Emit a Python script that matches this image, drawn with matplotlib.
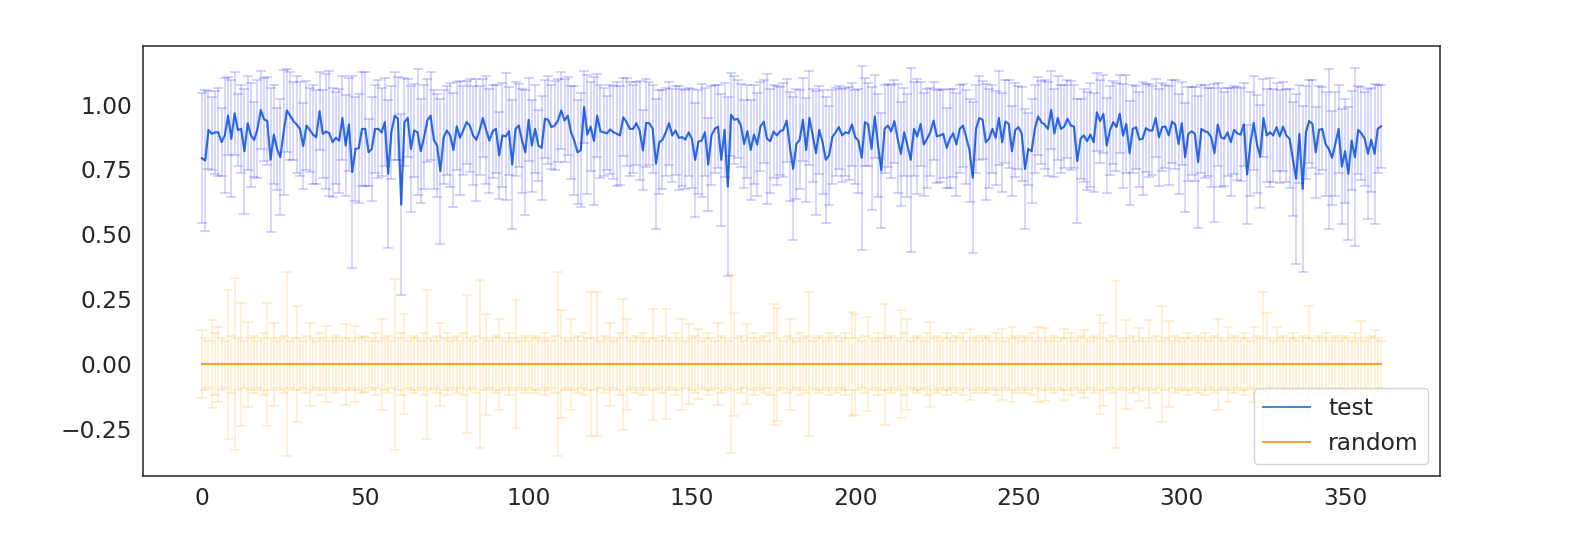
import numpy as np
import matplotlib
matplotlib.use("Agg")
import matplotlib.pyplot as plt
from matplotlib.lines import Line2D

# ---------------- data ----------------
test_mean = [
    .793, .784, .902, .887, .893, .893, .855, .881, .957, .868,
    .966, .902, .906, .820, .928, .881, .864, .906, .979, .943,
    .936, .787, .884, .829, .797, .893, .977, .957, .936, .923,
    .906, .840, .919, .902, .884, .874, .974, .887, .896, .889,
    .855, .872, .861, .948, .842, .923, .740, .829, .832, .906,
    .906, .816, .829, .906, .906, .893, .932, .733, .893, .957,
    .945, .615, .932, .948, .829, .900, .893, .820, .874, .938,
    .957, .864, .842, .743, .874, .900, .881, .825, .916, .872,
    .900, .932, .919, .881, .864, .900, .948, .902, .861, .897,
    .906, .804, .881, .877, .897, .769, .906, .919, .861, .816,
    .941, .842, .906, .842, .833, .945, .941, .913, .919, .938,
    .977, .938, .957, .893, .861, .816, .825, .990, .884, .915,
    .860, .957, .897, .893, .889, .904, .893, .887, .881, .951,
    .932, .906, .906, .928, .900, .823, .929, .928, .906, .772,
    .855, .864, .893, .928, .881, .900, .872, .874, .865, .893,
    .868, .787, .857, .861, .893, .769, .881, .906, .915, .787,
    .902, .684, .961, .941, .945, .919, .848, .897, .825, .884,
    .846, .915, .934, .868, .859, .896, .881, .897, .902, .938,
    .838, .752, .848, .864, .941, .825, .948, .881, .813, .902,
    .855, .787, .804, .874, .893, .913, .881, .893, .889, .923,
    .874, .861, .795, .932, .923, .829, .954, .842, .746, .906,
    .919, .897, .936, .868, .810, .893, .842, .787, .906, .877,
    .925, .846, .868, .893, .938, .877, .881, .887, .833, .868,
    .889, .846, .906, .919, .874, .823, .718, .906, .948, .941,
    .855, .868, .906, .872, .948, .855, .934, .925, .820, .902,
    .913, .887, .752, .829, .820, .906, .954, .932, .923, .906,
    .979, .889, .948, .906, .915, .945, .919, .915, .782, .868,
    .881, .859, .884, .855, .970, .936, .964, .842, .900, .932,
    .913, .964, .880, .925, .813, .906, .913, .865, .868, .909,
    .900, .900, .948, .874, .913, .915, .881, .934, .923, .848,
    .928, .797, .887, .897, .887, .778, .906, .897, .893, .874,
    .813, .923, .874, .868, .893, .855, .902, .889, .884, .923,
    .731, .848, .929, .848, .800, .948, .881, .893, .881, .913,
    .877, .915, .881, .868, .791, .714, .887, .675, .893, .936,
    .925, .816, .902, .906, .848, .829, .795, .848, .906, .761,
    .820, .733, .861, .797, .902, .889, .868, .810, .864, .810,
    .906, .916,
]

test_err = [
    .25, .27, .15, .14, .16, .17, .13, .22, .15, .225,
    .16, .14, .17, .24, .18, .20, .144, .19, .15, .16,
    .17, .276, .19, .157, .224, .24, .16, .17, .15, .187,
    .18, .165, .17, .16, .19, .18, .15, .17, .22, .24,
    .21, .177, .20, .16, .196, .18, .37, .20, .21, .22,
    .22, .13, .20, .17, .19, .17, .17, .284, .18, .17,
    .16, .35, .17, .15, .243, .18, .243, .20, .20, .16,
    .17, .19, .20, .28, .18, .17, .20, .22, .17, .22,
    .17, .16, .18, .19, .236, .17, .15, .207, .20, .18,
    .17, .167, .20, .244, .17, .247, .18, .16, .20, .241,
    .16, .177, .17, .135, .20, .15, .17, .163, .17, .16,
    .15, .16, .15, .18, .21, .20, .22, .14, .23, .17,
    .246, .16, .18, .17, .143, .17, .18, .20, .19, .15,
    .17, .18, .17, .16, .19, .154, .17, .16, .17, .25,
    .20, .19, .17, .16, .18, .17, .20, .186, .19, .17,
    .19, .22, .20, .218, .17, .18, .19, .17, .16, .253,
    .18, .346, .16, .17, .15, .16, .169, .18, .194, .19,
    .20, .17, .16, .25, .20, .18, .19, .17, .18, .16,
    .21, .275, .21, .19, .16, .20, .18, .18, .24, .17,
    .20, .242, .19, .18, .17, .16, .18, .17, .18, .16,
    .18, .20, .355, .17, .16, .237, .16, .20, .222, .17,
    .16, .18, .16, .21, .20, .17, .20, .355, .18, .22,
    .16, .20, .19, .17, .15, .18, .18, .17, .155, .19,
    .17, .20, .17, .16, .18, .20, .29, .17, .16, .15,
    .224, .19, .17, .18, .18, .19, .16, .17, .174, .18,
    .16, .18, .23, .137, .20, .17, .15, .16, .17, .18,
    .15, .17, .16, .17, .16, .15, .17, .16, .239, .154,
    .18, .19, .20, .19, .15, .16, .15, .182, .17, .16,
    .17, .15, .20, .19, .20, .17, .16, .183, .218, .17,
    .18, .17, .15, .186, .17, .16, .19, .16, .17, .194,
    .16, .21, .18, .17, .18, .254, .17, .18, .17, .19,
    .266, .16, .19, .18, .17, .209, .17, .18, .18, .16,
    .19, .20, .18, .19, .20, .15, .18, .21, .18, .17,
    .18, .17, .18, .19, .22, .327, .19, .32, .18, .16,
    .17, .175, .17, .16, .20, .307, .18, .20, .17, .22,
    .20, .256, .19, .343, .17, .18, .18, .25, .20, .27,
    .17, .16,
]

random_err = [
    .131, .10, .09, .169, .12, .144, .10, .09, .287, .11,
    .332, .10, .237, .09, .163, .10, .11, .09, .10, .12,
    .236, .10, .159, .09, .10, .11, .355, .09, .10, .223,
    .10, .09, .11, .16, .10, .09, .12, .10, .146, .09,
    .10, .11, .09, .10, .156, .10, .09, .146, .10, .11,
    .105, .09, .10, .12, .09, .176, .10, .11, .09, .33,
    .10, .12, .192, .09, .10, .11, .10, .09, .12, .287,
    .10, .09, .11, .16, .10, .12, .09, .10, .11, .09,
    .12, .265, .10, .09, .11, .323, .10, .195, .09, .10,
    .11, .176, .10, .09, .12, .10, .246, .09, .10, .11,
    .09, .10, .11, .10, .09, .12, .10, .09, .11, .355,
    .208, .10, .09, .176, .10, .11, .09, .12, .10, .278,
    .10, .278, .09, .11, .10, .16, .09, .10, .12, .253,
    .176, .10, .09, .11, .10, .12, .09, .10, .214, .10,
    .09, .11, .212, .10, .09, .12, .10, .176, .09, .154,
    .10, .11, .135, .09, .10, .12, .10, .09, .158, .11,
    .10, .09, .342, .198, .10, .11, .09, .154, .10, .12,
    .09, .10, .11, .09, .12, .233, .217, .10, .09, .11,
    .176, .10, .09, .12, .10, .11, .278, .09, .10, .11,
    .10, .09, .12, .10, .11, .09, .10, .12, .10, .20,
    .195, .10, .09, .11, .18, .10, .09, .12, .10, .233,
    .10, .11, .09, .10, .208, .12, .176, .09, .10, .11,
    .10, .09, .12, .163, .10, .11, .09, .10, .12, .10,
    .09, .11, .10, .12, .09, .137, .10, .11, .09, .10,
    .11, .10, .09, .12, .10, .137, .09, .10, .144, .11,
    .10, .09, .11, .10, .12, .09, .144, .10, .14, .09,
    .10, .11, .09, .10, .137, .10, .12, .09, .10, .11,
    .13, .10, .09, .11, .10, .191, .16, .10, .09, .11,
    .321, .10, .09, .172, .10, .11, .09, .14, .10, .09,
    .17, .10, .11, .09, .223, .10, .165, .09, .11, .10,
    .09, .10, .12, .10, .09, .11, .10, .12, .09, .10,
    .11, .176, .10, .09, .144, .10, .11, .09, .10, .12,
    .10, .09, .144, .11, .10, .278, .197, .10, .09, .144,
    .10, .11, .09, .10, .12, .10, .09, .11, .10, .224,
    .10, .09, .11, .10, .12, .09, .10, .11, .09, .10,
    .11, .10, .09, .12, .10, .165, .09, .10, .11, .13,
    .10, .09,
]

random_mean = [0.0] * len(random_err)
series_labels = ["test", "random"]

# ---------------- plot ----------------
plt.rcParams["font.family"] = ["DejaVu Sans"]
fig = plt.figure(figsize=(15.69, 5.37), dpi=100)
ax = fig.add_axes([143 / 1569, 1 - 476 / 537, (1440 - 143) / 1569, (476 - 46) / 537])

x_test = np.arange(len(test_mean))
x_rand = np.arange(len(random_mean))

blue_base = "#3b8ed8"
orange_base = "#f0a43a"

ax.plot(x_test, test_mean, color=blue_base, lw=1.5, zorder=3)
ax.errorbar(x_test, test_mean, yerr=test_err, color="blue", alpha=0.2,
            capsize=3.6, capthick=1.2, elinewidth=1.1, lw=1.5, zorder=3)
ax.plot(x_rand, random_mean, color=orange_base, lw=1.5, zorder=2)
ax.errorbar(x_rand, random_mean, yerr=random_err, color="orange", alpha=0.2,
            capsize=3.6, capthick=1.2, elinewidth=1.1, lw=1.5, zorder=2)

ax.set_xticks([0, 50, 100, 150, 200, 250, 300, 350])
ax.set_yticks([-0.25, 0.0, 0.25, 0.5, 0.75, 1.0])
ax.set_yticklabels(["\u22120.25", "0.00", "0.25", "0.50", "0.75", "1.00"])
ax.tick_params(axis="both", labelsize=16.8, colors="#262626", length=0, pad=8)
for s in ax.spines.values():
    s.set_color("#262626")
    s.set_linewidth(1.1)

handles = [Line2D([], [], color=blue_base, lw=1.5),
           Line2D([], [], color=orange_base, lw=1.5)]
leg = ax.legend(handles, series_labels, loc="lower right", fontsize=16.8,
                frameon=True, fancybox=True, edgecolor="#cccccc",
                handlelength=2.0, borderaxespad=0.5)
for t in leg.get_texts():
    t.set_color("#262626")

fig.savefig("out.png", dpi=100, facecolor="white")
